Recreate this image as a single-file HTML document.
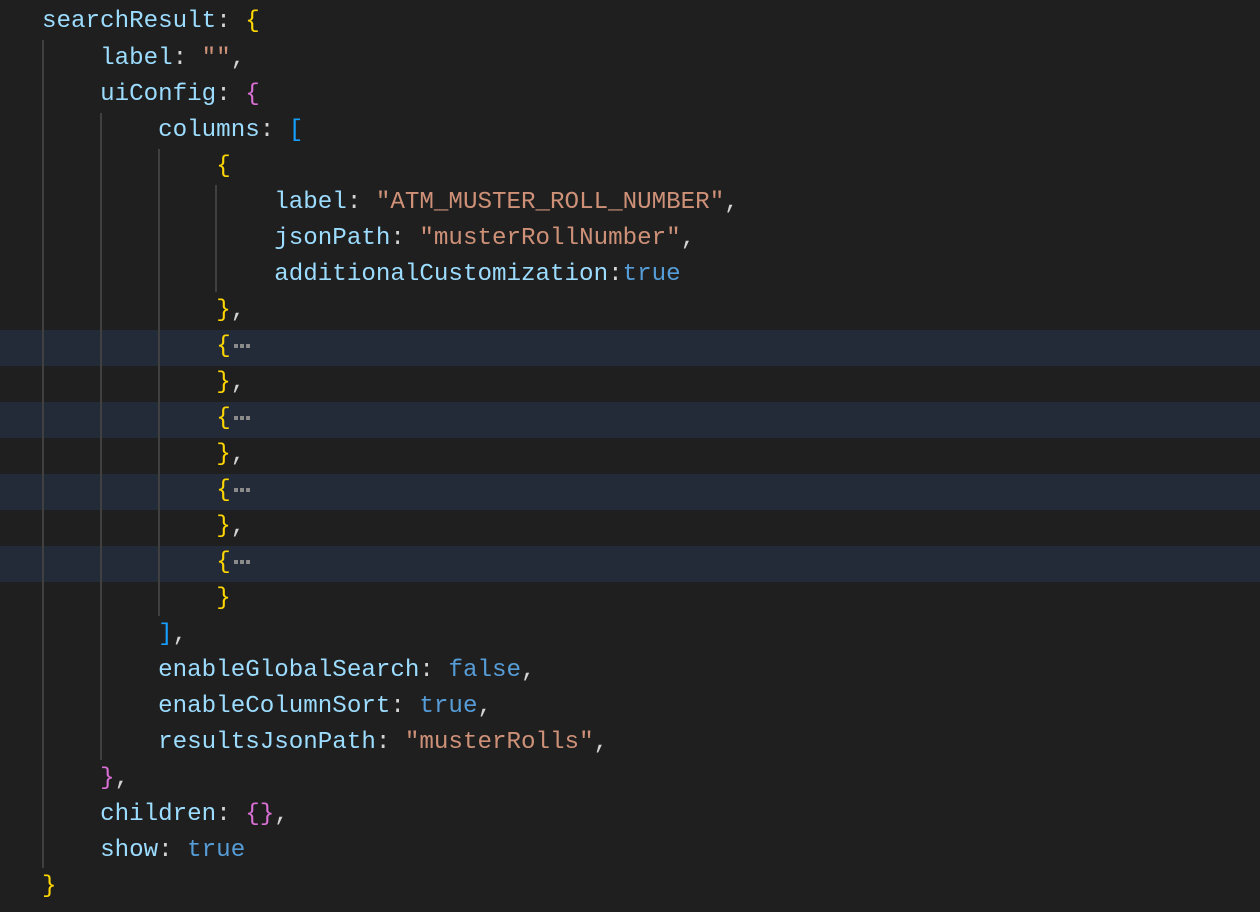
<!DOCTYPE html>
<html><head><meta charset="utf-8"><style>
body{margin:0;width:1260px;height:912px;background:#1f1f1f;overflow:hidden;position:relative;font-family:"Liberation Mono",monospace;font-size:24.2px;}
.l{position:absolute;left:42px;height:36px;line-height:36px;white-space:pre;color:#d4d4d4;}
.hl{position:absolute;left:0;width:1260px;height:36px;background:#222b37;}
.g{position:absolute;width:1.5px;background:#404040;}
.k{color:#9cdcfe}.s{color:#ce9178}.b{color:#569cd6}.y{color:#ffd700}.p{color:#da70d6}.bl{color:#179fff}
.d{display:inline-block;width:16px;height:4px;vertical-align:middle;margin-left:3px;background:repeating-linear-gradient(90deg,#8a8a8a 0 4px,transparent 4px 6px);}
</style></head><body>
<div class="hl" style="top:330px"></div><div class="hl" style="top:402px"></div><div class="hl" style="top:474px"></div><div class="hl" style="top:546px"></div>
<div class="g" style="left:42px;top:40px;height:828px"></div>
<div class="g" style="left:100px;top:113px;height:647px"></div>
<div class="g" style="left:158px;top:149px;height:467px"></div>
<div class="g" style="left:215px;top:185px;height:107px"></div>
<div class="l" style="top:4px"><span class="k">searchResult</span>: <span class="y">{</span></div>
<div class="l" style="top:41px">    <span class="k">label</span>: <span class="s">""</span>,</div>
<div class="l" style="top:77px">    <span class="k">uiConfig</span>: <span class="p">{</span></div>
<div class="l" style="top:113px">        <span class="k">columns</span>: <span class="bl">[</span></div>
<div class="l" style="top:149px">            <span class="y">{</span></div>
<div class="l" style="top:185px">                <span class="k">label</span>: <span class="s">"ATM_MUSTER_ROLL_NUMBER"</span>,</div>
<div class="l" style="top:221px">                <span class="k">jsonPath</span>: <span class="s">"musterRollNumber"</span>,</div>
<div class="l" style="top:257px">                <span class="k">additionalCustomization</span>:<span class="b">true</span></div>
<div class="l" style="top:293px">            <span class="y">}</span>,</div>
<div class="l" style="top:329px">            <span class="y">{</span><span class="d"></span></div>
<div class="l" style="top:365px">            <span class="y">}</span>,</div>
<div class="l" style="top:401px">            <span class="y">{</span><span class="d"></span></div>
<div class="l" style="top:437px">            <span class="y">}</span>,</div>
<div class="l" style="top:473px">            <span class="y">{</span><span class="d"></span></div>
<div class="l" style="top:509px">            <span class="y">}</span>,</div>
<div class="l" style="top:545px">            <span class="y">{</span><span class="d"></span></div>
<div class="l" style="top:581px">            <span class="y">}</span></div>
<div class="l" style="top:617px">        <span class="bl">]</span>,</div>
<div class="l" style="top:653px">        <span class="k">enableGlobalSearch</span>: <span class="b">false</span>,</div>
<div class="l" style="top:689px">        <span class="k">enableColumnSort</span>: <span class="b">true</span>,</div>
<div class="l" style="top:725px">        <span class="k">resultsJsonPath</span>: <span class="s">"musterRolls"</span>,</div>
<div class="l" style="top:761px">    <span class="p">}</span>,</div>
<div class="l" style="top:797px">    <span class="k">children</span>: <span class="p">{}</span>,</div>
<div class="l" style="top:833px">    <span class="k">show</span>: <span class="b">true</span></div>
<div class="l" style="top:869px"><span class="y">}</span></div>
</body></html>
